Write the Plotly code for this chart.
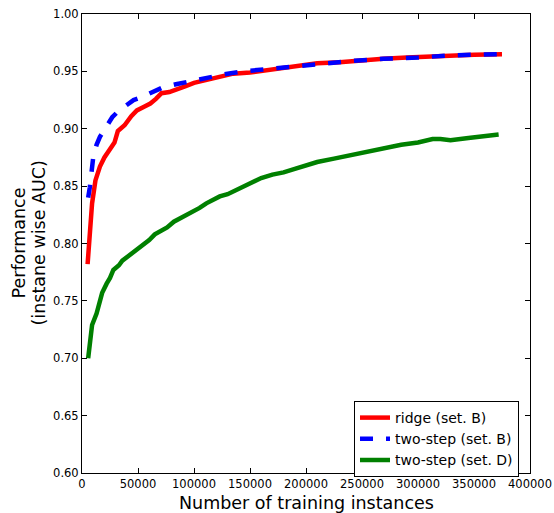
import plotly.graph_objects as go

# Learning curves: instance-wise AUC vs. number of training instances
ridge_b_x = [5000, 7000, 9000, 12000, 16000, 20000, 25000, 29000, 32000, 38000, 44000, 49000,
             55000, 61000, 66000, 71000, 78000, 85000, 92000, 100000, 108000, 120000, 135000,
             150000, 165000, 180000, 195000, 210000, 230000, 250000, 269000, 290000, 310000,
             329000, 350000, 375000]
ridge_b_y = [0.782, 0.810, 0.835, 0.855, 0.867, 0.875, 0.882, 0.888, 0.898, 0.903, 0.911, 0.916,
             0.919, 0.922, 0.926, 0.931, 0.932, 0.934, 0.937, 0.940, 0.942, 0.945, 0.948,
             0.949, 0.951, 0.953, 0.955, 0.957, 0.958, 0.960, 0.961, 0.962, 0.963,
             0.964, 0.9645, 0.965]

twostep_b_x = [5500, 7000, 10000, 13000, 16000, 22000, 27000, 32000, 40000, 46000, 52000, 60000,
               66000, 72000, 85000, 99000, 115000, 130000, 144000, 165000, 185000, 210000,
               240000, 269000, 300000, 329000, 355000, 375000]
twostep_b_y = [0.840, 0.849, 0.875, 0.886, 0.893, 0.903, 0.910, 0.915, 0.921, 0.925, 0.927, 0.931,
               0.934, 0.936, 0.939, 0.942, 0.945, 0.948, 0.950, 0.952, 0.954, 0.957,
               0.959, 0.961, 0.962, 0.964, 0.965, 0.965]

twostep_d_x = [5500, 7000, 9000, 13000, 16000, 18000, 22000, 25000, 28000, 33000, 36000, 40000,
               45000, 50000, 55000, 60000, 65000, 70000, 76000, 82000, 88000, 94000, 99000,
               105000, 111000, 117000, 123000, 130000, 138000, 145000, 153000, 160000, 170000,
               180000, 190000, 200000, 210000, 225000, 240000, 255000, 269000, 285000, 300000,
               313000, 320000, 329000, 345000, 360000, 372000]
twostep_d_y = [0.700, 0.715, 0.729, 0.739, 0.748, 0.757, 0.765, 0.770, 0.777, 0.781, 0.785, 0.788,
               0.792, 0.796, 0.800, 0.803, 0.808, 0.811, 0.814, 0.819, 0.822, 0.825, 0.827,
               0.831, 0.835, 0.838, 0.841, 0.843, 0.847, 0.850, 0.854, 0.857, 0.860,
               0.862, 0.865, 0.868, 0.871, 0.874, 0.877, 0.880, 0.883, 0.886, 0.888,
               0.891, 0.891, 0.890, 0.892, 0.894, 0.895]

x_ticks = [0, 50000, 100000, 150000, 200000, 250000, 300000, 350000, 400000]
y_ticks = [0.60, 0.65, 0.70, 0.75, 0.80, 0.85, 0.90, 0.95, 1.00]

x_title = "Number of training instances"
y_title_lines = ["Performance", "(instane wise AUC)"]

font_family = "DejaVu Sans"
W, H = 554, 513
M_L, M_R, M_T, M_B = 82, 24, 14, 40
plot_w = W - M_L - M_R
plot_h = H - M_T - M_B

fig = go.Figure()
fig.add_trace(go.Scatter(x=ridge_b_x, y=ridge_b_y, mode="lines", name="ridge (set. B)",
                         line=dict(color="#ff0000", width=4.5)))
fig.add_trace(go.Scatter(x=twostep_b_x, y=twostep_b_y, mode="lines", name="two-step (set. B)",
                         line=dict(color="#0000ff", width=4.5, dash="13px,13px")))
fig.add_trace(go.Scatter(x=twostep_d_x, y=twostep_d_y, mode="lines", name="two-step (set. D)",
                         line=dict(color="#008000", width=4.5)))

axis_common = dict(showgrid=False, zeroline=False, showline=True, linecolor="black",
                   linewidth=1, mirror="ticks", ticks="inside", ticklen=5, tickcolor="black",
                   automargin=False,
                   tickfont=dict(family=font_family, size=11.5, color="black"))

fig.update_xaxes(range=[0, 400000], tickvals=x_ticks, tickformat="d", **axis_common)
fig.update_yaxes(range=[0.60, 1.00], tickvals=y_ticks, tickformat=".2f", **axis_common)

# axis titles placed as annotations (paper coordinates from pixel offsets)
title_font = dict(family=font_family, size=17.5, color="black")
fig.add_annotation(text=x_title, xref="paper", yref="paper", x=0.5,
                   y=-(503 - (M_T + plot_h)) / plot_h, xanchor="center", yanchor="middle",
                   showarrow=False, font=title_font)
for line_text, px in zip(y_title_lines, [18, 38]):
    fig.add_annotation(text=line_text, xref="paper", yref="paper",
                       x=(px - M_L) / plot_w, y=0.5, xanchor="center", yanchor="middle",
                       textangle=-90, showarrow=False, font=title_font)

fig.update_layout(
    width=W, height=H,
    margin=dict(l=M_L, r=M_R, t=M_T, b=M_B),
    paper_bgcolor="white", plot_bgcolor="white",
    font=dict(family=font_family, color="black"),
    legend=dict(x=(354 - M_L) / plot_w, y=(M_T + plot_h - 401) / plot_h,
                xanchor="left", yanchor="top",
                bordercolor="black", borderwidth=1, bgcolor="white",
                font=dict(family=font_family, size=14, color="black"),
                tracegroupgap=0, itemwidth=30),
    showlegend=True,
)

fig.write_html("out.html")
